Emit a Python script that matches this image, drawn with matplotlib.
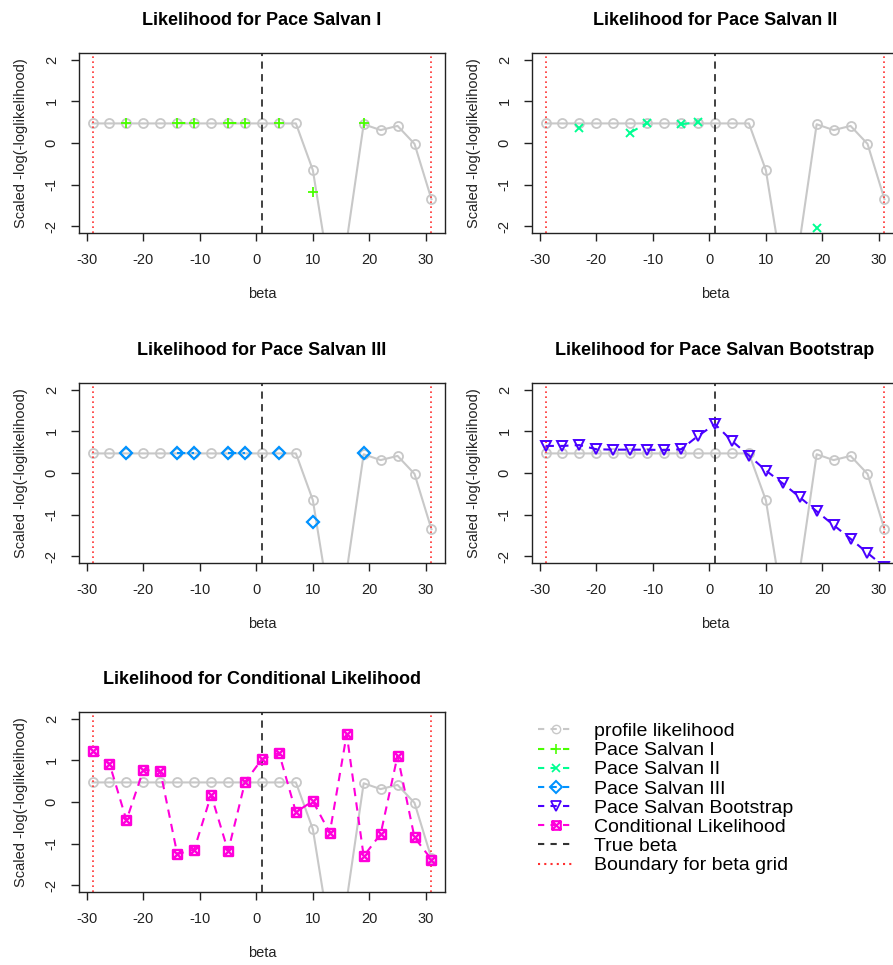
import numpy as np
import matplotlib
matplotlib.use("Agg")
import matplotlib.pyplot as plt
from matplotlib.lines import Line2D
from matplotlib.path import Path

plt.rcParams['font.family'] = ['Liberation Sans', 'DejaVu Sans']
plt.rcParams['axes.unicode_minus'] = False

nan = np.nan
beta = [-29, -26, -23, -20, -17, -14, -11, -8, -5, -2, 1, 4, 7, 10, 13, 16, 19, 22, 25, 28, 31]
profile = [0.47, 0.47, 0.47, 0.47, 0.47, 0.47, 0.47, 0.47, 0.47, 0.47, 0.47, 0.47, 0.47,
           -0.65, -3.17, -2.35, 0.45, 0.31, 0.41, -0.02, -1.35]
ps1 = [nan, nan, 0.48, nan, nan, 0.48, 0.48, nan, 0.48, 0.48, nan, 0.48, nan,
       -1.17, nan, nan, 0.47, nan, nan, nan, nan]
ps2 = [nan, nan, 0.35, nan, nan, 0.25, 0.48, nan, 0.45, 0.50, nan, nan, nan,
       nan, nan, nan, -2.03, nan, nan, nan, nan]
ps3 = [nan, nan, 0.48, nan, nan, 0.48, 0.48, nan, 0.48, 0.48, nan, 0.48, nan,
       -1.17, nan, nan, 0.47, nan, nan, nan, nan]
boot = [0.65, 0.65, 0.67, 0.57, 0.56, 0.56, 0.56, 0.55, 0.57, 0.89, 1.17, 0.77, 0.42,
        0.06, -0.25, -0.58, -0.92, -1.25, -1.58, -1.92, -2.25]
cond = [1.22, 0.92, -0.44, 0.77, 0.74, -1.25, -1.14, 0.17, -1.18, 0.48, 1.03, 1.18, -0.24,
        0.02, -0.74, 1.63, -1.30, -0.77, 1.11, -0.85, -1.38]
true_beta = 1
bounds = [-29, 31]

titles = ["Likelihood for Pace Salvan I", "Likelihood for Pace Salvan II",
          "Likelihood for Pace Salvan III", "Likelihood for Pace Salvan Bootstrap",
          "Likelihood for Conditional Likelihood"]
series = [ps1, ps2, ps3, boot, cond]
cols = ["#49FF00", "#00FF92", "#0092FF", "#4900FF", "#FF00DB"]
gray = "#C8C8C8"

# square with a cross inside (like R pch=7)
sqx = Path([(-1, -1), (1, -1), (1, 1), (-1, 1), (-1, -1), (-1, -1), (1, 1), (-1, 1), (1, -1)],
           [Path.MOVETO, Path.LINETO, Path.LINETO, Path.LINETO, Path.CLOSEPOLY,
            Path.MOVETO, Path.LINETO, Path.MOVETO, Path.LINETO])
marks = ["+", "x", "D", "v", sqx]
msize = [7.5, 6, 6.3, 7, 6.5]
mwid = [1.3, 1.4, 1.6, 1.4, 1.7]

fig = plt.figure(figsize=(8.93, 9.65), dpi=100)
W, H = 893.0, 965.0
lefts = [79, 532]
tops = [53, 383, 712]
pos = [(lefts[0], tops[0]), (lefts[1], tops[0]), (lefts[0], tops[1]),
       (lefts[1], tops[1]), (lefts[0], tops[2])]

for i, (l, t) in enumerate(pos):
    ax = fig.add_axes([l / W, 1 - (t + 180) / H, 366 / W, 180 / H])
    ax.plot(beta, profile, color=gray, lw=1.5, marker="o", ms=6.5, mfc="none",
            mec=gray, mew=1.3)
    ax.axvline(true_beta, color="#333333", lw=1.3, ls=(0, (4, 3)))
    for b in bounds:
        ax.axvline(b, color="#FF3030", lw=1.2, ls=(0, (1, 2)))
    ax.plot(beta, series[i], color=cols[i], lw=1.5, ls=(0, (4, 3)))
    ax.plot(beta, series[i], ls="none", marker=marks[i], ms=msize[i], mfc="none",
            mec=cols[i], mew=mwid[i])
    ax.set_xlim(-31.4, 33.4)
    ax.set_ylim(-2.16, 2.16)
    ax.set_xticks([-30, -20, -10, 0, 10, 20, 30])
    ax.set_yticks([-2, -1, 0, 1, 2])
    ax.set_yticklabels(["-2", "-1", "0", "1", "2"], rotation=90, va="center")
    ax.tick_params(direction="out", length=5.5, width=1, labelsize=10.5, pad=9,
                   colors="#222222")
    ax.set_xlabel("beta", fontsize=10.5, labelpad=14, color="#222222")
    ax.set_ylabel("Scaled -log(-loglikelihood)", fontsize=10.5, labelpad=12, color="#222222")
    ax.set_title(titles[i], fontsize=13, fontweight="bold", pad=20)
    for s in ax.spines.values():
        s.set_linewidth(1.0)
        s.set_color("#222222")

# legend panel
lax = fig.add_axes([532 / W, 1 - 892 / H, 366 / W, 180 / H])
lax.axis("off")
handles = [Line2D([], [], color=gray, ls=(0, (3, 3)), marker="o", mfc="none", mec=gray, ms=6)]
for i in range(5):
    handles.append(Line2D([], [], color=cols[i], ls=(0, (3, 3)), marker=marks[i], mfc="none",
                          mec=cols[i], ms=msize[i] * 0.95, mew=mwid[i] * 0.9))
handles.append(Line2D([], [], color="#333333", ls=(0, (3, 3))))
handles.append(Line2D([], [], color="#FF3030", ls=(0, (1, 2))))
labels = ["profile likelihood", "Pace Salvan I", "Pace Salvan II", "Pace Salvan III",
          "Pace Salvan Bootstrap", "Conditional Likelihood", "True beta", "Boundary for beta grid"]
lax.legend(handles, labels, loc="upper left", bbox_to_anchor=(-0.02, 1.017), frameon=False,
           fontsize=14, labelspacing=0.08, handlelength=1.85, handletextpad=1.0,
           borderaxespad=0.3)

fig.savefig("out.png", dpi=100)
